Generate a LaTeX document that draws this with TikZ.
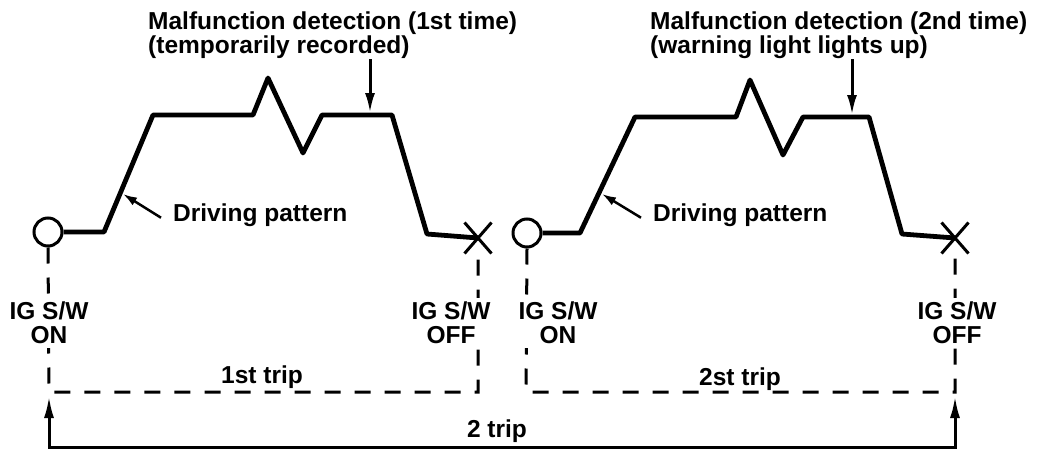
\documentclass[tikz,border=0pt]{standalone}
\usepackage{fontspec}
\setmainfont{Liberation Sans}
\usetikzlibrary{arrows.meta,shapes.misc}
\begin{document}
\begin{tikzpicture}[x=1pt,y=-1pt,
  lbl/.style={font=\bfseries\fontsize{24.5}{24}\selectfont, inner sep=0pt},
  sw/.style={lbl, align=center, fill=white, inner xsep=1pt, inner ysep=4pt},
  curve/.style={line width=4.8pt, line join=round},
  tripline/.style={line width=3pt, dash pattern=on 16pt off 14pt},
  onmark/.style={circle, draw, line width=3pt, minimum size=28pt, inner sep=0pt, fill=white},
  offmark/.style={cross out, draw, line width=3pt, minimum width=24pt, minimum height=28pt, inner sep=0pt},
  pointer/.style={line width=2.5pt, -{Latex[length=14pt,width=9pt]}},
  downarrow/.style={line width=3pt, -{Latex[length=20pt,width=10pt]}},
  span/.style={line width=3pt, {Latex[length=22pt,width=10pt]}-{Latex[length=22pt,width=10pt]}}
]
\useasboundingbox[fill=white] (0,0) rectangle (1040,460);

% ---------- markers ----------
\node[onmark] (c1) at (48,232) {};
\node[offmark] (x1) at (478,238) {};
\node[onmark] (c2) at (527,233) {};
\node[offmark] (x2) at (955,238) {};

% ---------- corner / tip coordinates ----------
\coordinate (k1) at (49,392);
\coordinate (k2) at (478,392);
\coordinate (k3) at (526,392);
\coordinate (k4) at (955,392);
\coordinate (e1) at (49,396);
\coordinate (b1) at (49,447);
\coordinate (b2) at (955,447);
\coordinate (e2) at (955,396);

% ---------- trip dashed lines ----------
\draw[tripline] (c1.south) -- (k1) -- (k2) -- (x1.south);
\draw[tripline] (c2.south) -- (k3) -- (k4) -- (x2.south);

% ---------- driving patterns ----------
\draw[curve] (c1.east) -- (104,232) -- (153,115) -- (253,115) -- (268,78) -- (303,153)
  -- (322,115) -- (392,115) -- (427,234) -- (x1.center);
\draw[curve] (c2.east) -- (580,233) -- (635,117) -- (736,117) -- (750,80) -- (783,155)
  -- (803,117) -- (869,117) -- (902,234) -- (x2.center);

% ---------- labels ----------
\node[lbl, anchor=north west, align=left] (m1) at (148,12)
  {Malfunction detection (1st time)\\(temporarily recorded)};
\node[lbl, anchor=north west, align=left] (m2) at (650,12)
  {Malfunction detection (2nd time)\\(warning light lights up)};
\coordinate (d1) at (370,113);
\coordinate (d2) at (852,115);
\draw[downarrow] (m1.south -| d1) -- (d1);
\draw[downarrow] (m2.south -| d2) -- (d2);

\node[lbl, anchor=base west] (dp1) at (173,221) {Driving pattern};
\node[lbl, anchor=base west] (dp2) at (653,221) {Driving pattern};
\coordinate (t1) at (123,194);
\coordinate (t2) at (602,194);
\draw[pointer] ([xshift=-12pt,yshift=-3pt]dp1.west) -- (t1);
\draw[pointer] ([xshift=-12pt,yshift=-3pt]dp2.west) -- (t2);

\node[sw, anchor=north] (on1) at (49,298) {IG S/W\\ON};
\node[sw, anchor=north] (off1) at (451,298) {IG S/W\\OFF};
\node[sw, anchor=north] (on2) at (558,298) {IG S/W\\ON};
\node[sw, anchor=north] (off2) at (957,298) {IG S/W\\OFF};

\node[lbl, anchor=base] (t1lab) at (262,383) {1st trip};
\node[lbl, anchor=base] (t2lab) at (740,385) {2st trip};

% ---------- overall span ----------
\draw[span] (e1) -- (b1) -- (b2) -- (e2);
\node[lbl, anchor=base] (tot) at (497,437) {2 trip};
\end{tikzpicture}
\end{document}
